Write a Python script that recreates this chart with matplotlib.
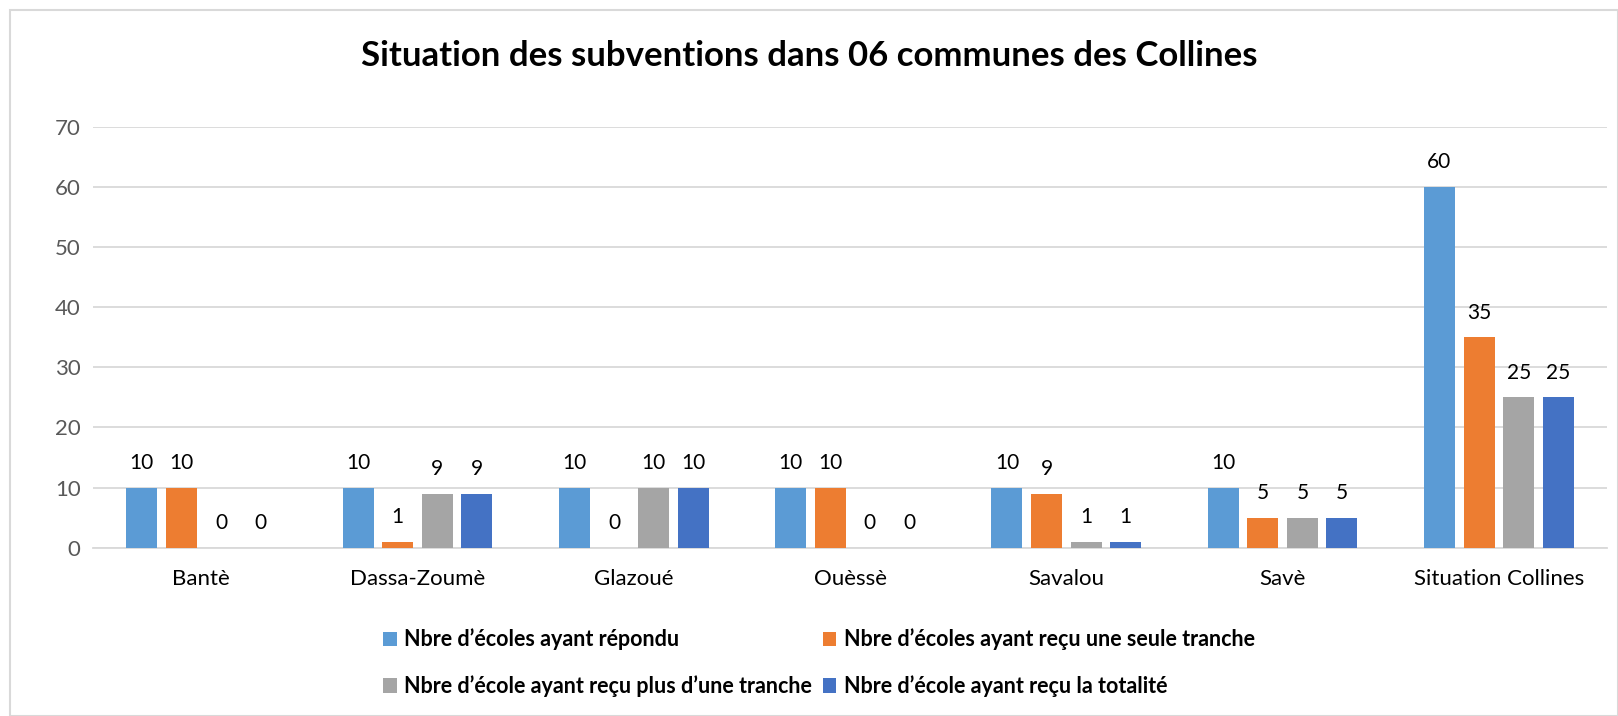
import numpy as np
import matplotlib
matplotlib.use('Agg')
import matplotlib.pyplot as plt
from matplotlib.patches import Rectangle

plt.rcParams['font.family'] = ['Lato', 'DejaVu Sans']

communes = ['Bantè', 'Dassa-Zoumè', 'Glazoué', 'Ouèssè', 'Savalou', 'Savè', 'Situation Collines']
repondu = [10, 10, 10, 10, 10, 10, 60]
une_tranche = [10, 1, 0, 10, 9, 5, 35]
plus_tranche = [0, 9, 10, 0, 1, 5, 25]
totalite = [0, 9, 10, 0, 1, 5, 25]

series = [
    ('Nbre d\u2019écoles ayant répondu', repondu, '#5B9BD5'),
    ('Nbre d\u2019écoles ayant reçu une seule tranche', une_tranche, '#ED7D31'),
    ('Nbre d\u2019école ayant reçu plus d\u2019une tranche', plus_tranche, '#A5A5A5'),
    ('Nbre d\u2019école ayant reçu la totalité', totalite, '#4472C4'),
]

fig = plt.figure(figsize=(16.18, 7.16), dpi=100)
ax = fig.add_axes([0.0575, 0.235, 0.9357, 0.588])

# chart frame like the spreadsheet export
fig.patches.append(Rectangle((0.006, 0.0), 0.994, 0.986, transform=fig.transFigure,
                             fill=False, edgecolor='#D9D9D9', linewidth=1.5))

x = np.arange(len(communes))
slot = 0.183
width = 0.143
handles = []
for i, (name, vals, col) in enumerate(series):
    pos = x + (i - 1.5) * slot
    bars = ax.bar(pos, vals, width, color=col, label=name, zorder=3)
    handles.append(bars)
    for b, v in zip(bars, vals):
        ax.text(b.get_x() + b.get_width() / 2, v + 4.1, str(v), ha='center', va='center',
                fontsize=15, color='#000000')

ax.set_ylim(0, 70)
ax.set_xlim(-0.5, len(communes) - 0.5)
ax.set_yticks(range(0, 71, 10))
ax.yaxis.grid(True, color='#D9D9D9', linewidth=1.3, zorder=0)
ax.set_axisbelow(True)
for s in ax.spines.values():
    s.set_visible(False)
ax.spines['bottom'].set_visible(True)
ax.spines['bottom'].set_color('#D9D9D9')
ax.spines['bottom'].set_linewidth(1.3)
ax.tick_params(axis='both', length=0, labelsize=16, colors='#595959')
ax.tick_params(axis='x', pad=15, labelcolor='#000000')
ax.tick_params(axis='y', pad=9)
ax.set_xticks(x)
ax.set_xticklabels(communes)

fig.text(0.5, 0.922, 'Situation des subventions dans 06 communes des Collines', ha='center', va='center',
         fontsize=25, fontweight='bold')

# legend is filled column by column, so reorder to get the row layout
order = [0, 2, 1, 3]
leg = fig.legend([handles[k] for k in order], [series[k][0] for k in order],
                 loc='upper left', bbox_to_anchor=(0.2299, 0.137), ncol=2, frameon=False,
                 borderpad=0, prop={'size': 15.5, 'weight': 'bold'}, handlelength=0.64,
                 handleheight=0.64, handletextpad=0.35, columnspacing=0.5, labelspacing=1.15)

fig.savefig('out.png', dpi=100)
